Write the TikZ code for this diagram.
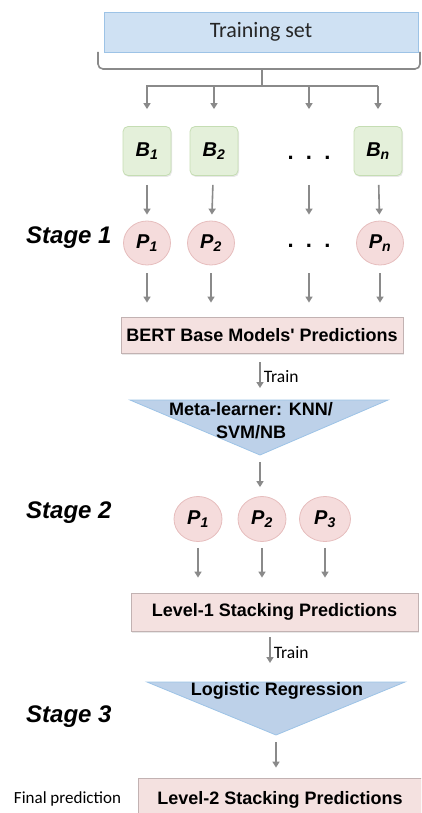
\documentclass[tikz,border=0pt]{standalone}
\usepackage{fontspec}
\setmainfont{Liberation Sans}
\newfontfamily\calib{Carlito}
\usepackage{xcolor}
\usepackage{tikz}
\usetikzlibrary{arrows.meta,positioning,shapes,calc,shadows}

\definecolor{setblue}{HTML}{CFE1F3}
\definecolor{setborder}{HTML}{9DC3E6}
\definecolor{metablue}{HTML}{BDD1E9}
\definecolor{basegreen}{HTML}{E4F0DA}
\definecolor{greenborder}{HTML}{C5DDB3}
\definecolor{predpink}{HTML}{F5DCDC}
\definecolor{pinkborder}{HTML}{E6BDBD}
\definecolor{boxpink}{HTML}{F4E1E0}
\definecolor{boxborder}{HTML}{C2B2B2}
\definecolor{arrowgray}{HTML}{8A8A8A}

\tikzset{
  softshadow/.style={drop shadow={opacity=0.18, shadow xshift=1pt, shadow yshift=-1.5pt}},
  basebox/.style={draw=greenborder, fill=basegreen, line width=0.8pt, rounded corners=5pt,
    minimum width=48pt, minimum height=49pt, inner sep=0pt, softshadow,
    font=\fontsize{20}{22}\selectfont\bfseries\itshape},
  predcirc/.style={ellipse, draw=pinkborder, fill=predpink, line width=0.8pt,
    minimum width=47pt, minimum height=44pt, inner sep=0pt,
    font=\fontsize{20}{22}\selectfont\bfseries\itshape},
  outbox/.style={draw=boxborder, fill=boxpink, line width=0.8pt, inner sep=0pt, softshadow,
    font=\fontsize{18}{20}\selectfont\bfseries},
  flow/.style={draw=arrowgray, line width=1.6pt, -{Triangle[length=6pt,width=7pt]}},
  stagelbl/.style={anchor=west, inner sep=0pt, font=\fontsize{24}{26}\selectfont\bfseries\itshape},
  trainlbl/.style={right, inner sep=3pt, font=\calib\fontsize{17.5}{19}\selectfont},
  dotrow/.style={font=\fontsize{22}{24}\selectfont\bfseries},
}

\begin{document}
\begin{tikzpicture}[x=1pt,y=-1pt]
\useasboundingbox (0,0) rectangle (421,813);
\clip (0,0) rectangle (421,813);

% Training set and brace
\node[draw=setborder, fill=setblue, line width=0.8pt, minimum width=314pt, minimum height=40pt,
  font=\calib\fontsize{22}{24}\selectfont, text=black!85] (train) at (261,32) {Training set};
\coordinate (rail) at (262,86);
\draw[arrowgray, line width=1.6pt, rounded corners=5pt] (98,52) |- (420,69) -- (420,52);
\draw[arrowgray, line width=1.6pt] (262,69) -- (rail);
\draw[arrowgray, line width=1.6pt] (146,86) -- (378,86);

% Stage 1: base models
\node[basebox] (b1) at (147,151) {B\textsubscript{1}};
\node[basebox] (b2) at (214,151) {B\textsubscript{2}};
\node[dotrow] (bdots) at (309,158) {.\ \ .\ \ .};
\node[basebox] (bn) at (378,151) {B\textsubscript{\textit{n}}};

\node[predcirc] (p1) at (147,243) {P\textsubscript{1}};
\node[predcirc] (p2) at (211,243) {P\textsubscript{2}};
\node[dotrow] (pdots) at (309,246) {.\ \ .\ \ .};
\node[predcirc] (pn) at (380,243) {P\textsubscript{\textit{n}}};

\node[stagelbl] (stage1) at (26,238) {Stage 1};

\foreach \b in {b1,b2,bn}
  \draw[flow, shorten >=17pt] (\b.north |- rail) -- (\b.north);
\draw[flow, shorten >=17pt] (bdots |- rail) -- (bdots |- b1.north);

\foreach \b/\p in {b1/p1,b2/p2,bn/pn}
  \draw[flow, shorten <=9pt, shorten >=6pt] (\b) -- (\p);
\draw[flow, shorten <=9pt, shorten >=6pt] (bdots |- b1.south) -- (pdots |- p1.north);

\node[outbox, minimum width=282pt, minimum height=36pt] (bert) at (262,335) {BERT Base Models\textquotesingle\ Predictions};

\foreach \p in {p1,p2,pn}
  \draw[flow, shorten <=8pt, shorten >=14pt] (\p) -- (\p |- bert.north);
\draw[flow, shorten <=8pt, shorten >=14pt] (pdots |- p1.south) -- (pdots |- bert.north);

% Stage 2: meta-learner
\coordinate (metatop) at (260,400);
\coordinate (metaapex) at (260,455);
\fill[metablue, draw=setborder, line width=0.8pt] (130,400) -- (388,400) -- (metaapex) -- cycle;
\node[align=center, font=\fontsize{18}{23}\selectfont\bfseries] (meta) at (251,421) {Meta-learner: KNN/\\SVM/NB};
\draw[flow, shorten <=9pt, shorten >=12pt] (bert.south -| metatop) -- (metatop) node[midway, trainlbl] (train1) {Train};

\node[predcirc, minimum width=48pt, minimum height=45pt] (q1) at (198,519) {P\textsubscript{1}};
\node[predcirc, minimum width=48pt, minimum height=45pt] (q2) at (262,519) {P\textsubscript{2}};
\node[predcirc, minimum width=51pt, minimum height=45pt] (q3) at (325,519) {P\textsubscript{3}};
\node[stagelbl] (stage2) at (26,513) {Stage 2};

\draw[flow, shorten <=7pt, shorten >=9pt] (metaapex) -- (metaapex |- q2.north);

\node[outbox, minimum width=287pt, minimum height=38pt] (level1) at (274.5,612) {Level-1 Stacking Predictions};
\foreach \q in {q1,q2,q3}
  \draw[flow, shorten <=6pt, shorten >=15pt] (\q) -- (\q |- level1.north);

% Stage 3: logistic regression
\coordinate (lrtop) at (270,682);
\coordinate (lrapex) at (276,735);
\fill[metablue, draw=setborder, line width=0.8pt] (147,682) -- (405,682) -- (lrapex) -- cycle;
\node[font=\fontsize{18}{20}\selectfont\bfseries] (lr) at (277,691) {Logistic Regression};
\draw[flow, shorten <=6pt, shorten >=19pt] (level1.south -| lrtop) -- (lrtop) node[pos=0.42, trainlbl] (train2) {Train};
\node[stagelbl] (stage3) at (26,717) {Stage 3};

\node[outbox, minimum width=284pt, minimum height=44pt] (level2) at (280,800) {Level-2 Stacking Predictions};
\draw[flow, shorten <=7pt, shorten >=10pt] (lrapex) -- (lrapex |- level2.north);

\node[font=\calib\fontsize{17}{19}\selectfont] (final) at (67.5,799) {Final prediction};

\end{tikzpicture}
\end{document}
